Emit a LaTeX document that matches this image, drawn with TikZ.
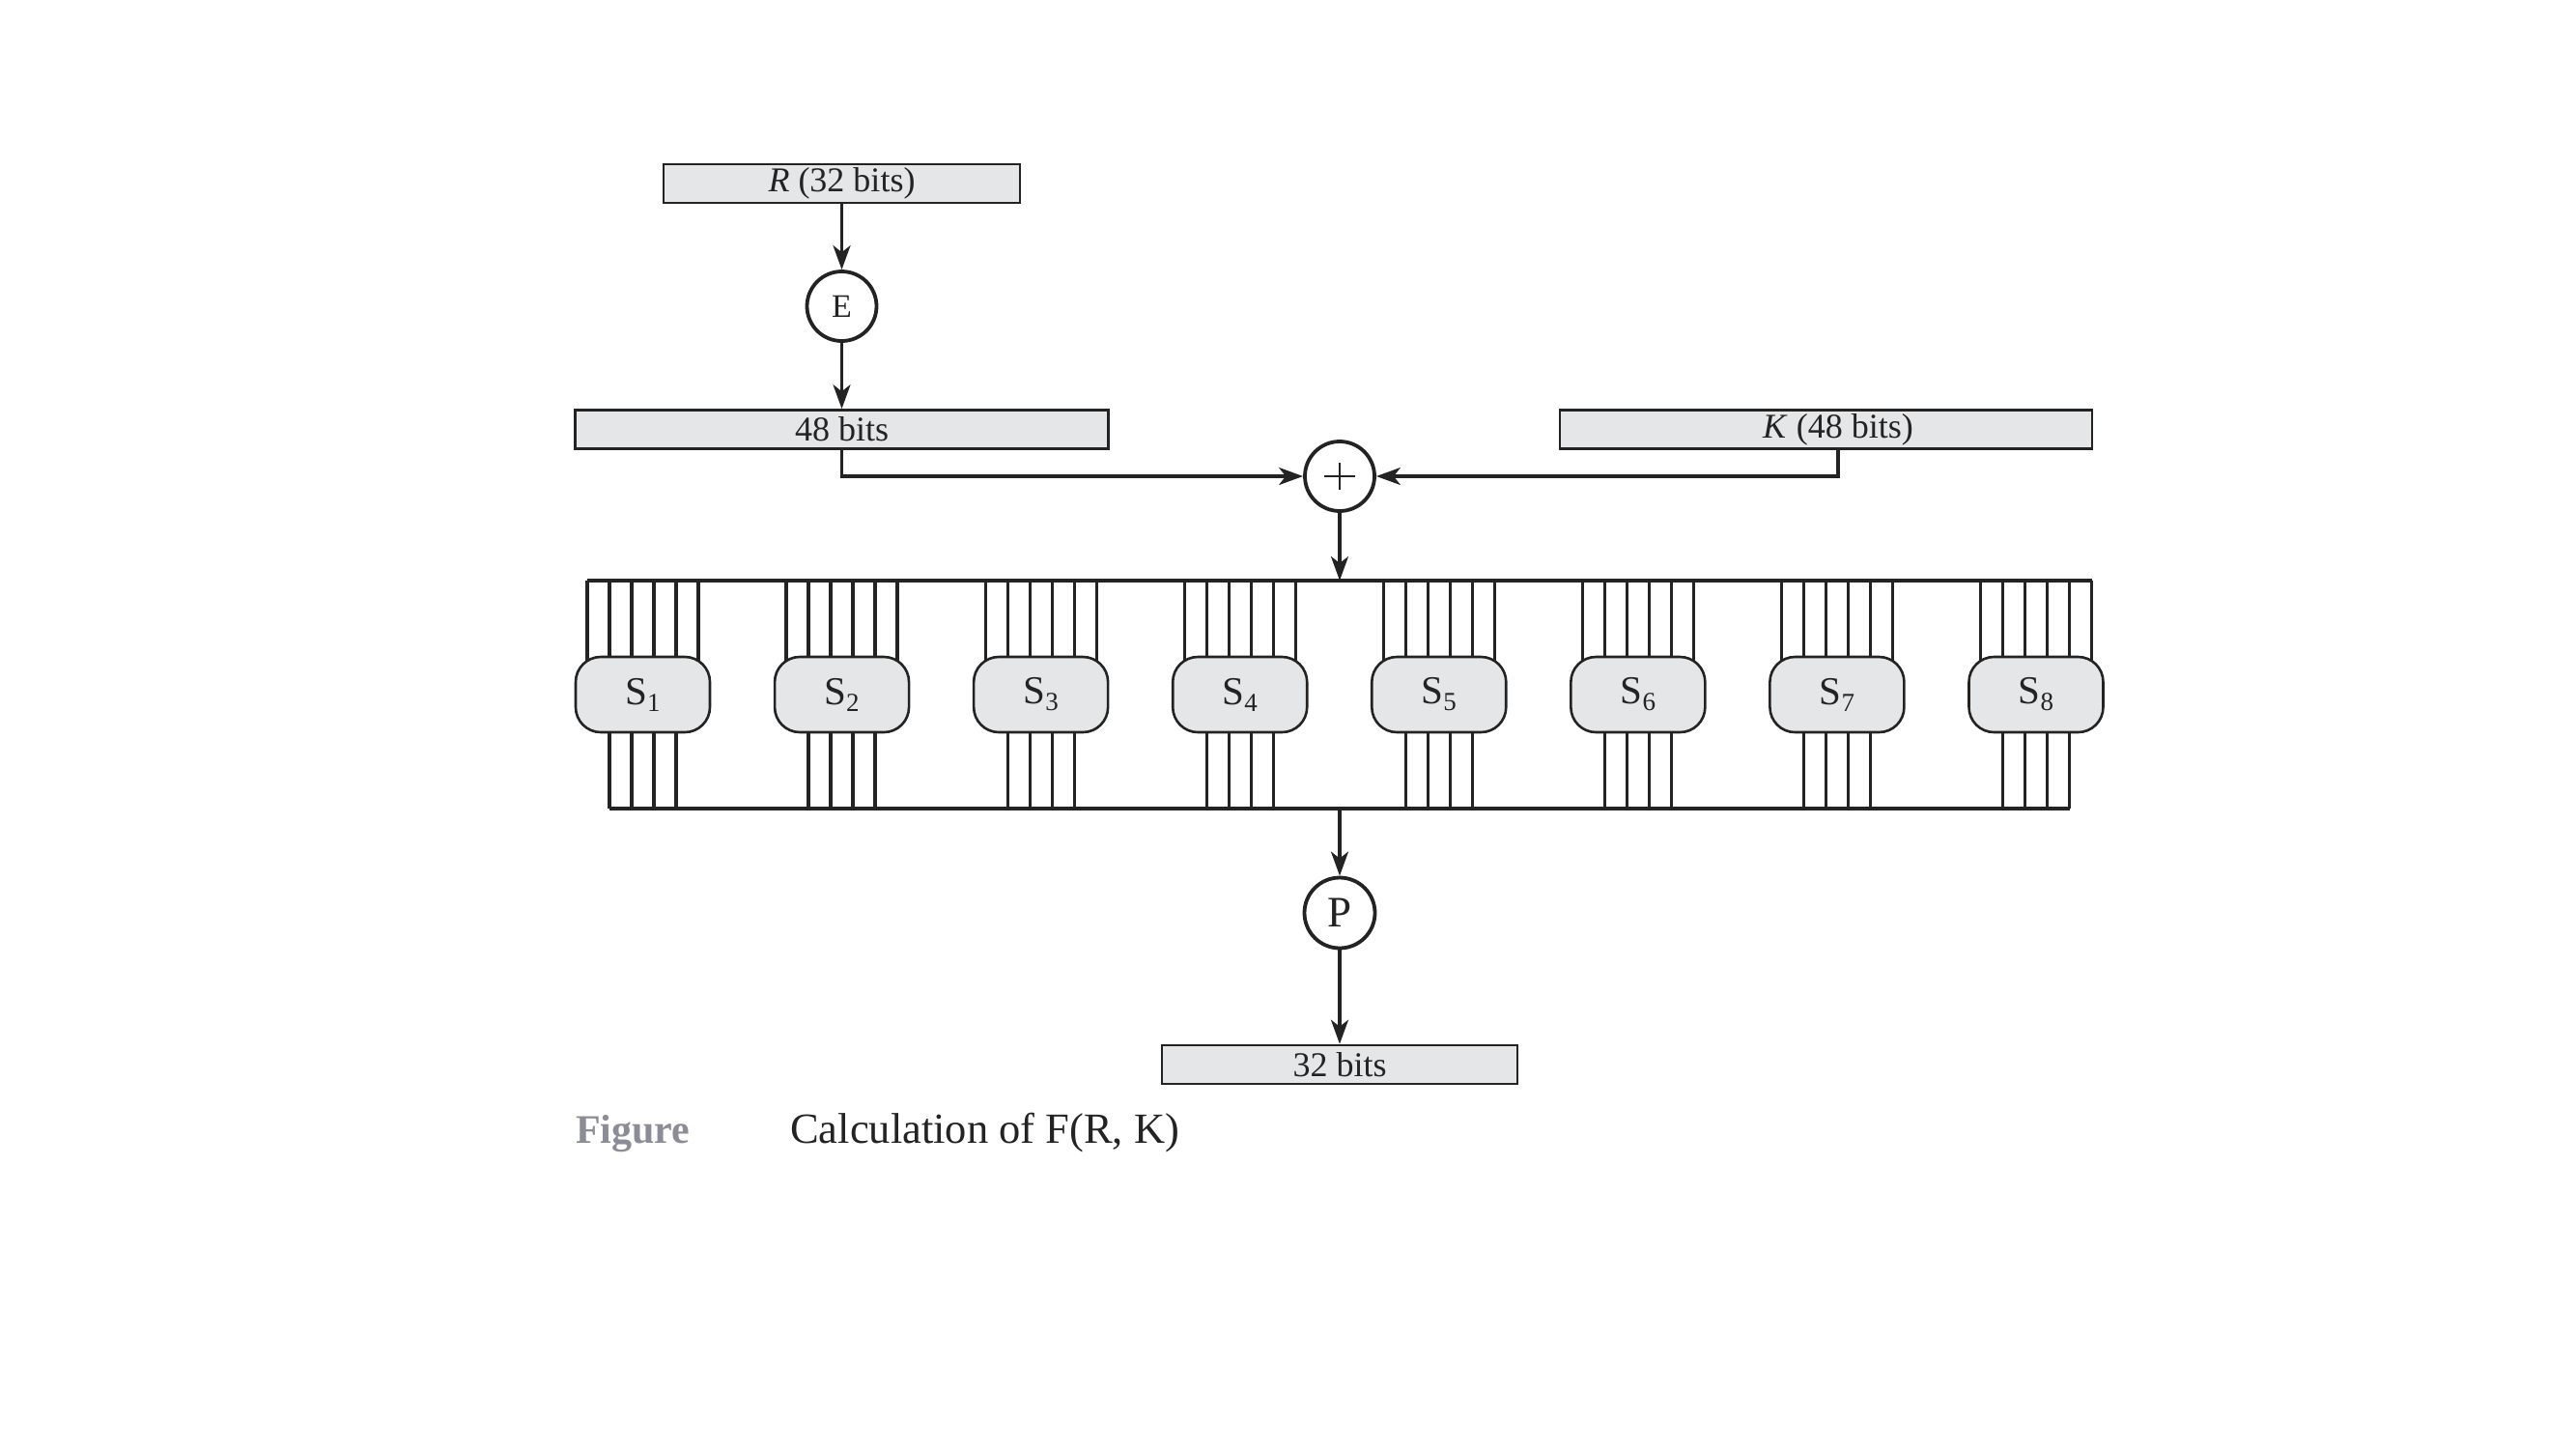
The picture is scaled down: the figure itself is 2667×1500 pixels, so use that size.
\documentclass[tikz,border=0pt]{standalone}
\usepackage{fontspec}
\setmainfont{Liberation Serif}
\usetikzlibrary{arrows.meta,calc,backgrounds}
\definecolor{boxfill}{RGB}{229,230,232}
\definecolor{wirecol}{RGB}{35,35,35}
\definecolor{figgray}{RGB}{140,140,150}
\begin{document}
\begin{tikzpicture}[x=1pt,y=-1pt,
  wire/.style={line width=3.3pt, draw=wirecol},
  arr/.style={wire, -{Stealth[length=25pt,width=18pt,inset=7pt]}},
  bitbox/.style={draw=wirecol, line width=2.6pt, fill=boxfill, inner sep=0pt,
    minimum height=40pt, text=wirecol, font=\fontsize{36}{40}\selectfont},
  opcirc/.style={circle, draw=wirecol, line width=3.8pt, fill=white,
    minimum size=72pt, inner sep=0pt, text=wirecol},
  sbox/.style={draw=wirecol, line width=2.6pt, fill=boxfill, rounded corners=26pt,
    minimum width=139pt, minimum height=78pt, inner sep=0pt, text=wirecol,
    font=\fontsize{41}{42}\selectfont},
  buswire/.style={line width=3.3pt, draw=wirecol}
]
\useasboundingbox (0,0) rectangle (2667,1500);

% top boxes
\node[bitbox, minimum width=369pt] (R) at (871.5,190) {\textit{R} (32 bits)};
\node[opcirc, font=\fontsize{34}{34}\selectfont] (E) at (871.5,317) {E};
\node[bitbox, minimum width=552pt] (B48) at (871.5,444.5) {48 bits};
\node[bitbox, minimum width=551pt] (K) at (1890.5,444.5) {\hspace*{25pt}\textit{K} (48 bits)};
\node[opcirc] (X) at (1387,493) {};
\draw[line width=2pt, draw=wirecol] ($(X.center)+(-16,0)$) -- ($(X.center)+(16,0)$);
\draw[line width=2pt, draw=wirecol] ($(X.center)+(0,-14)$) -- ($(X.center)+(0,14)$);

\draw[arr] (R.south) -- (E.north);
\draw[arr] (E.south) -- (B48.north);
\draw[arr] (B48.south) |- (X.west);
\coordinate (kc) at ($(K.south)+(12.5,0)$);
\draw[arr] (kc) |- (X.east);

% buses
\coordinate (tbL) at (608,601);
\coordinate (tbR) at (2165.5,601);
\coordinate (bbL) at (631,837);
\coordinate (bbR) at (2142.5,837);
\coordinate (tb) at (1387,601);
\coordinate (bb) at (1387,837);
\draw[buswire] (tbL) -- (tbR);
\draw[buswire] (bbL) -- (bbR);

% S-boxes
\foreach \i in {1,...,8}{
  \pgfmathsetmacro\cx{665.5+206.07*(\i-1)}
  \foreach \o in {-57.5,-34.5,-11.5,11.5,34.5,57.5}{
    \draw[buswire] (\cx+\o,601) -- (\cx+\o,719);
  }
  \foreach \o in {-34.5,-11.5,11.5,34.5}{
    \draw[buswire] (\cx+\o,719) -- (\cx+\o,837);
  }
  \node[sbox] (S\i) at (\cx,719) {S\raisebox{-7pt}{\fontsize{27}{27}\selectfont\i}};
}

\draw[arr] (X.south) -- (tb);

% bottom
\node[opcirc, minimum size=73pt, font=\fontsize{45}{45}\selectfont] (P) at (1387,945) {P};
\node[bitbox, minimum width=368pt] (O) at (1387,1102) {32 bits};
\draw[arr] (bb) -- (P.north);
\draw[arr] (P.south) -- (O.north);

% caption
\node[anchor=base west, inner sep=0pt, text=figgray,
  font=\fontsize{42}{42}\selectfont\bfseries] (fig) at (596,1183) {Figure};
\node[anchor=base west, inner sep=0pt, text=wirecol,
  font=\fontsize{44.5}{44.5}\selectfont] (cap) at (818,1183) {Calculation of F(R, K)};
\end{tikzpicture}
\end{document}
